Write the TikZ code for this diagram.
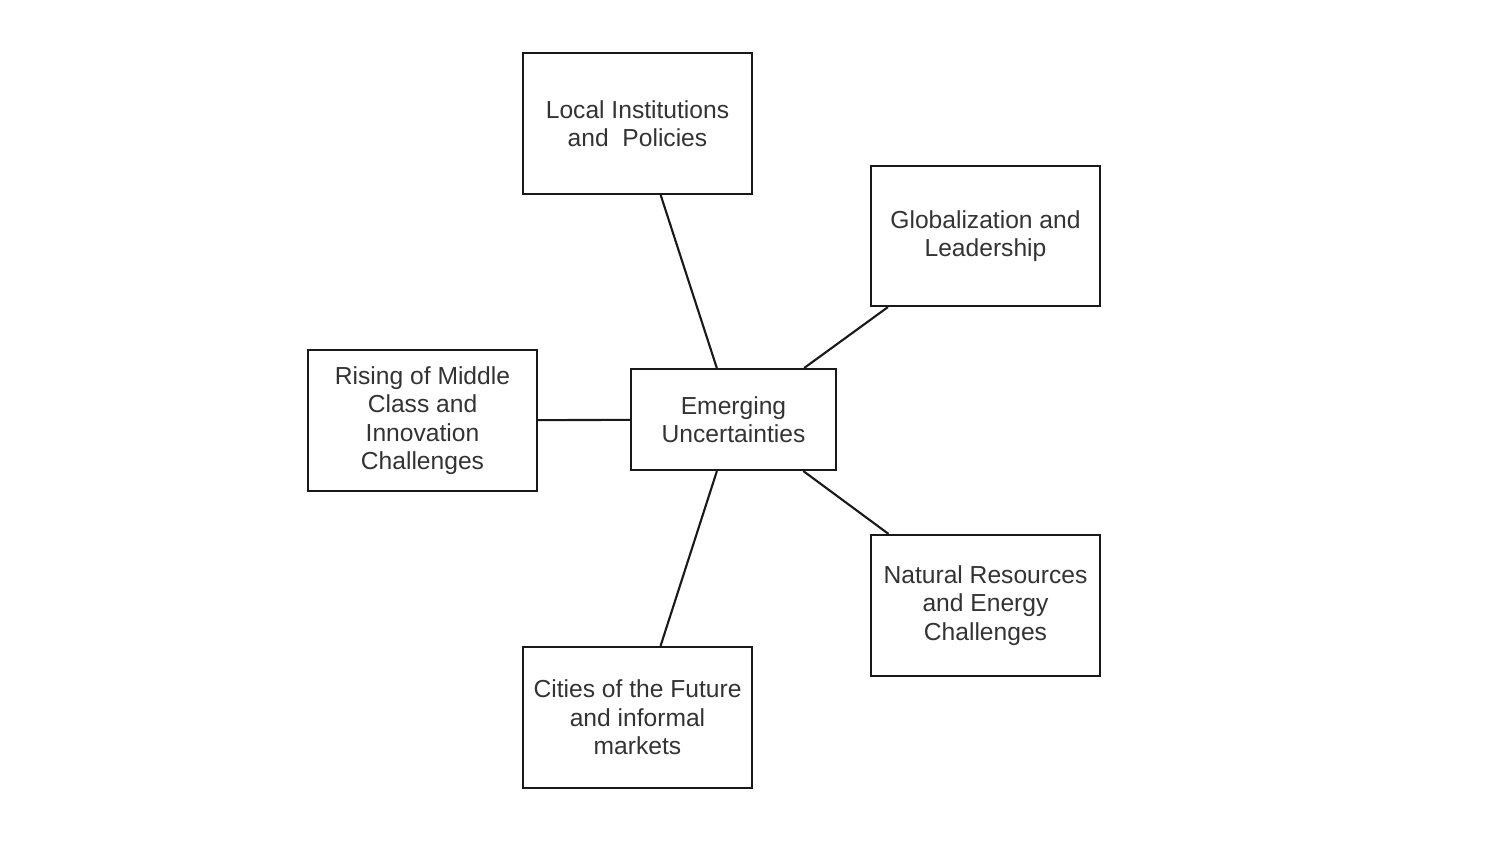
\documentclass[tikz,border=0pt]{standalone}
\usepackage{fontspec}
\setmainfont{Liberation Sans}
\begin{document}
\begin{tikzpicture}[x=0.01cm,y=-0.01cm,
  box/.style={draw=black!90, line width=0.6pt, minimum width=229*0.01cm, minimum height=141*0.01cm, inner sep=0pt, align=center, text=black!80, font=\fontsize{7}{8.1}\selectfont},
  link/.style={draw=black!90, line width=0.6pt}]
\useasboundingbox (0,0) rectangle (1511,850);
\node[box] (local) at (637.5,123.5) {Local Institutions\\and\ \ Policies};
\node[box, minimum height=140*0.01cm] (glob) at (985.5,236) {Globalization and\\Leadership};
\node[box] (rise) at (422.5,420.5) {Rising of Middle\\Class and\\Innovation\\Challenges};
\node[box, minimum width=205*0.01cm, minimum height=101*0.01cm] (emer) at (733.5,419.5) {Emerging\\Uncertainties};
\node[box] (nat) at (985.5,605.5) {Natural Resources\\and Energy\\Challenges};
\node[box] (city) at (637.5,717.5) {Cities of the Future\\and informal\\markets};
\draw[link] (local) -- (emer);
\draw[link] (glob) -- (emer);
\draw[link] (rise) -- (emer);
\draw[link] (nat) -- (emer);
\draw[link] (city) -- (emer);
\end{tikzpicture}
\end{document}
